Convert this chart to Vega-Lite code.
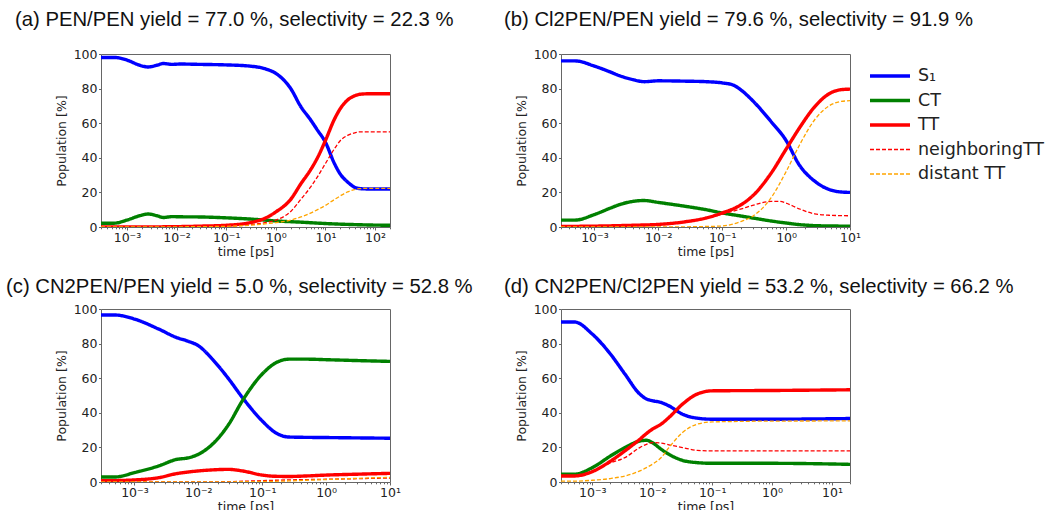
{
  "$schema": "https://vega.github.io/schema/vega-lite/v6.json",
  "padding": {"left": 5, "top": 9, "right": 0, "bottom": 0},
  "background": "white",
  "bounds": "flush",
  "columns": 2,
  "spacing": {"row": 82, "column": 171},
  "data": {"values": [
    {"p":"a","s":"S₁","t":0.0003,"v":98},{"p":"a","s":"S₁","t":0.00055,"v":98},{"p":"a","s":"S₁","t":0.001,"v":96.5},{"p":"a","s":"S₁","t":0.0018,"v":93.5},{"p":"a","s":"S₁","t":0.0027,"v":92.5},{"p":"a","s":"S₁","t":0.004,"v":93.5},{"p":"a","s":"S₁","t":0.0055,"v":94.5},{"p":"a","s":"S₁","t":0.008,"v":94},{"p":"a","s":"S₁","t":0.012,"v":94.2},{"p":"a","s":"S₁","t":0.03,"v":94},{"p":"a","s":"S₁","t":0.1,"v":93.7},{"p":"a","s":"S₁","t":0.3,"v":93},{"p":"a","s":"S₁","t":0.6,"v":91.5},{"p":"a","s":"S₁","t":1,"v":88.8},{"p":"a","s":"S₁","t":2,"v":80},{"p":"a","s":"S₁","t":3.2,"v":69.5},{"p":"a","s":"S₁","t":5,"v":62},{"p":"a","s":"S₁","t":6.9,"v":56},{"p":"a","s":"S₁","t":10,"v":49},{"p":"a","s":"S₁","t":15,"v":37},{"p":"a","s":"S₁","t":20,"v":30.5},{"p":"a","s":"S₁","t":28,"v":26},{"p":"a","s":"S₁","t":40,"v":22.8},{"p":"a","s":"S₁","t":49,"v":22.2},{"p":"a","s":"S₁","t":70,"v":22},{"p":"a","s":"S₁","t":200,"v":22},
    {"p":"a","s":"CT","t":0.0003,"v":2.2},{"p":"a","s":"CT","t":0.00055,"v":2.2},{"p":"a","s":"CT","t":0.001,"v":4},{"p":"a","s":"CT","t":0.0018,"v":6.5},{"p":"a","s":"CT","t":0.0027,"v":7.5},{"p":"a","s":"CT","t":0.004,"v":6.5},{"p":"a","s":"CT","t":0.0055,"v":5.5},{"p":"a","s":"CT","t":0.008,"v":6},{"p":"a","s":"CT","t":0.012,"v":5.9},{"p":"a","s":"CT","t":0.03,"v":5.8},{"p":"a","s":"CT","t":0.1,"v":5.3},{"p":"a","s":"CT","t":0.3,"v":4.6},{"p":"a","s":"CT","t":0.6,"v":4},{"p":"a","s":"CT","t":1,"v":3.5},{"p":"a","s":"CT","t":3.2,"v":2.8},{"p":"a","s":"CT","t":10,"v":2},{"p":"a","s":"CT","t":28,"v":1.5},{"p":"a","s":"CT","t":49,"v":1.3},{"p":"a","s":"CT","t":100,"v":1.1},{"p":"a","s":"CT","t":200,"v":1},
    {"p":"a","s":"TT","t":0.0003,"v":0},{"p":"a","s":"TT","t":0.001,"v":0},{"p":"a","s":"TT","t":0.01,"v":0.2},{"p":"a","s":"TT","t":0.03,"v":0.5},{"p":"a","s":"TT","t":0.1,"v":1},{"p":"a","s":"TT","t":0.3,"v":2.5},{"p":"a","s":"TT","t":0.6,"v":5},{"p":"a","s":"TT","t":1,"v":8.7},{"p":"a","s":"TT","t":2,"v":16},{"p":"a","s":"TT","t":3.2,"v":25},{"p":"a","s":"TT","t":5,"v":33},{"p":"a","s":"TT","t":6.9,"v":40},{"p":"a","s":"TT","t":10,"v":50},{"p":"a","s":"TT","t":15,"v":62},{"p":"a","s":"TT","t":20,"v":68.5},{"p":"a","s":"TT","t":28,"v":73.4},{"p":"a","s":"TT","t":40,"v":76},{"p":"a","s":"TT","t":49,"v":76.7},{"p":"a","s":"TT","t":70,"v":77},{"p":"a","s":"TT","t":200,"v":77},
    {"p":"a","s":"neighboringTT","t":0.0003,"v":0},{"p":"a","s":"neighboringTT","t":0.01,"v":0.1},{"p":"a","s":"neighboringTT","t":0.1,"v":0.6},{"p":"a","s":"neighboringTT","t":0.3,"v":1.3},{"p":"a","s":"neighboringTT","t":0.6,"v":2.5},{"p":"a","s":"neighboringTT","t":1,"v":4},{"p":"a","s":"neighboringTT","t":2,"v":9},{"p":"a","s":"neighboringTT","t":3.2,"v":16},{"p":"a","s":"neighboringTT","t":5,"v":23},{"p":"a","s":"neighboringTT","t":6.9,"v":29},{"p":"a","s":"neighboringTT","t":10,"v":36.7},{"p":"a","s":"neighboringTT","t":15,"v":45},{"p":"a","s":"neighboringTT","t":20,"v":50},{"p":"a","s":"neighboringTT","t":28,"v":53},{"p":"a","s":"neighboringTT","t":40,"v":54.5},{"p":"a","s":"neighboringTT","t":49,"v":55},{"p":"a","s":"neighboringTT","t":200,"v":55},
    {"p":"a","s":"distant TT","t":0.0003,"v":0},{"p":"a","s":"distant TT","t":0.01,"v":0.1},{"p":"a","s":"distant TT","t":0.1,"v":0.4},{"p":"a","s":"distant TT","t":0.3,"v":1},{"p":"a","s":"distant TT","t":0.6,"v":1.8},{"p":"a","s":"distant TT","t":1,"v":2.5},{"p":"a","s":"distant TT","t":2,"v":4},{"p":"a","s":"distant TT","t":3.2,"v":5.8},{"p":"a","s":"distant TT","t":5,"v":8},{"p":"a","s":"distant TT","t":6.9,"v":10},{"p":"a","s":"distant TT","t":10,"v":12.5},{"p":"a","s":"distant TT","t":15,"v":15.8},{"p":"a","s":"distant TT","t":20,"v":18},{"p":"a","s":"distant TT","t":28,"v":20.3},{"p":"a","s":"distant TT","t":40,"v":21.8},{"p":"a","s":"distant TT","t":49,"v":22.2},{"p":"a","s":"distant TT","t":70,"v":22.3},{"p":"a","s":"distant TT","t":200,"v":22.3},

    {"p":"b","s":"S₁","t":0.0003,"v":96},{"p":"b","s":"S₁","t":0.0005,"v":96},{"p":"b","s":"S₁","t":0.001,"v":93},{"p":"b","s":"S₁","t":0.0018,"v":89.5},{"p":"b","s":"S₁","t":0.0025,"v":87.4},{"p":"b","s":"S₁","t":0.004,"v":85.2},{"p":"b","s":"S₁","t":0.006,"v":84},{"p":"b","s":"S₁","t":0.01,"v":84.5},{"p":"b","s":"S₁","t":0.026,"v":84.3},{"p":"b","s":"S₁","t":0.056,"v":84},{"p":"b","s":"S₁","t":0.1,"v":83.3},{"p":"b","s":"S₁","t":0.15,"v":82},{"p":"b","s":"S₁","t":0.2,"v":79},{"p":"b","s":"S₁","t":0.3,"v":73},{"p":"b","s":"S₁","t":0.58,"v":61},{"p":"b","s":"S₁","t":1,"v":50},{"p":"b","s":"S₁","t":1.6,"v":36},{"p":"b","s":"S₁","t":2.8,"v":26.5},{"p":"b","s":"S₁","t":4.7,"v":21.7},{"p":"b","s":"S₁","t":7,"v":20.3},{"p":"b","s":"S₁","t":10,"v":20},
    {"p":"b","s":"CT","t":0.0003,"v":4},{"p":"b","s":"CT","t":0.0005,"v":4},{"p":"b","s":"CT","t":0.001,"v":7.2},{"p":"b","s":"CT","t":0.0018,"v":11},{"p":"b","s":"CT","t":0.0025,"v":13},{"p":"b","s":"CT","t":0.004,"v":14.8},{"p":"b","s":"CT","t":0.006,"v":15.3},{"p":"b","s":"CT","t":0.01,"v":14.2},{"p":"b","s":"CT","t":0.026,"v":12},{"p":"b","s":"CT","t":0.056,"v":10},{"p":"b","s":"CT","t":0.1,"v":8.1},{"p":"b","s":"CT","t":0.2,"v":6.3},{"p":"b","s":"CT","t":0.3,"v":5.2},{"p":"b","s":"CT","t":0.58,"v":3.5},{"p":"b","s":"CT","t":1,"v":2.3},{"p":"b","s":"CT","t":1.6,"v":1.4},{"p":"b","s":"CT","t":2.8,"v":0.8},{"p":"b","s":"CT","t":4.7,"v":0.6},{"p":"b","s":"CT","t":10,"v":0.5},
    {"p":"b","s":"TT","t":0.0003,"v":0.3},{"p":"b","s":"TT","t":0.001,"v":0.5},{"p":"b","s":"TT","t":0.004,"v":1},{"p":"b","s":"TT","t":0.01,"v":1.5},{"p":"b","s":"TT","t":0.026,"v":3},{"p":"b","s":"TT","t":0.056,"v":5.2},{"p":"b","s":"TT","t":0.1,"v":8.1},{"p":"b","s":"TT","t":0.2,"v":13},{"p":"b","s":"TT","t":0.3,"v":18},{"p":"b","s":"TT","t":0.58,"v":31},{"p":"b","s":"TT","t":1,"v":45},{"p":"b","s":"TT","t":1.6,"v":57},{"p":"b","s":"TT","t":2.8,"v":69.5},{"p":"b","s":"TT","t":4.7,"v":77},{"p":"b","s":"TT","t":7,"v":79.3},{"p":"b","s":"TT","t":10,"v":79.7},
    {"p":"b","s":"neighboringTT","t":0.0003,"v":0.3},{"p":"b","s":"neighboringTT","t":0.001,"v":0.5},{"p":"b","s":"neighboringTT","t":0.004,"v":1},{"p":"b","s":"neighboringTT","t":0.01,"v":1.5},{"p":"b","s":"neighboringTT","t":0.026,"v":3},{"p":"b","s":"neighboringTT","t":0.056,"v":5},{"p":"b","s":"neighboringTT","t":0.1,"v":7.5},{"p":"b","s":"neighboringTT","t":0.2,"v":10.5},{"p":"b","s":"neighboringTT","t":0.3,"v":12.5},{"p":"b","s":"neighboringTT","t":0.58,"v":14.8},{"p":"b","s":"neighboringTT","t":0.8,"v":14.8},{"p":"b","s":"neighboringTT","t":1,"v":13.8},{"p":"b","s":"neighboringTT","t":1.6,"v":10.5},{"p":"b","s":"neighboringTT","t":2.8,"v":7.6},{"p":"b","s":"neighboringTT","t":4.7,"v":6.8},{"p":"b","s":"neighboringTT","t":7,"v":6.6},{"p":"b","s":"neighboringTT","t":10,"v":6.5},
    {"p":"b","s":"distant TT","t":0.0003,"v":0},{"p":"b","s":"distant TT","t":0.01,"v":0},{"p":"b","s":"distant TT","t":0.026,"v":0.1},{"p":"b","s":"distant TT","t":0.056,"v":0.3},{"p":"b","s":"distant TT","t":0.1,"v":0.6},{"p":"b","s":"distant TT","t":0.2,"v":3.3},{"p":"b","s":"distant TT","t":0.3,"v":6.2},{"p":"b","s":"distant TT","t":0.58,"v":16.8},{"p":"b","s":"distant TT","t":1,"v":32},{"p":"b","s":"distant TT","t":1.6,"v":47},{"p":"b","s":"distant TT","t":2.8,"v":62},{"p":"b","s":"distant TT","t":4.7,"v":70},{"p":"b","s":"distant TT","t":7,"v":72.5},{"p":"b","s":"distant TT","t":10,"v":73},

    {"p":"c","s":"S₁","t":0.0003,"v":96.5},{"p":"c","s":"S₁","t":0.0005,"v":96.5},{"p":"c","s":"S₁","t":0.001,"v":94.2},{"p":"c","s":"S₁","t":0.0024,"v":88.4},{"p":"c","s":"S₁","t":0.0045,"v":83.6},{"p":"c","s":"S₁","t":0.007,"v":81.3},{"p":"c","s":"S₁","t":0.01,"v":78.8},{"p":"c","s":"S₁","t":0.0166,"v":71},{"p":"c","s":"S₁","t":0.03,"v":59.5},{"p":"c","s":"S₁","t":0.049,"v":48.8},{"p":"c","s":"S₁","t":0.1,"v":35.3},{"p":"c","s":"S₁","t":0.16,"v":28.6},{"p":"c","s":"S₁","t":0.26,"v":26},{"p":"c","s":"S₁","t":0.5,"v":25.8},{"p":"c","s":"S₁","t":1,"v":25.7},{"p":"c","s":"S₁","t":3,"v":25.5},{"p":"c","s":"S₁","t":10,"v":25.3},
    {"p":"c","s":"CT","t":0.0003,"v":2.9},{"p":"c","s":"CT","t":0.0005,"v":2.9},{"p":"c","s":"CT","t":0.001,"v":5.4},{"p":"c","s":"CT","t":0.0024,"v":9.3},{"p":"c","s":"CT","t":0.0045,"v":13},{"p":"c","s":"CT","t":0.007,"v":14},{"p":"c","s":"CT","t":0.01,"v":16},{"p":"c","s":"CT","t":0.0166,"v":21.8},{"p":"c","s":"CT","t":0.03,"v":33.4},{"p":"c","s":"CT","t":0.049,"v":47},{"p":"c","s":"CT","t":0.1,"v":62.4},{"p":"c","s":"CT","t":0.16,"v":68.7},{"p":"c","s":"CT","t":0.26,"v":71},{"p":"c","s":"CT","t":0.5,"v":71},{"p":"c","s":"CT","t":1,"v":70.7},{"p":"c","s":"CT","t":3,"v":70.2},{"p":"c","s":"CT","t":10,"v":69.7},
    {"p":"c","s":"TT","t":0.0003,"v":0.7},{"p":"c","s":"TT","t":0.0005,"v":0.8},{"p":"c","s":"TT","t":0.001,"v":1.2},{"p":"c","s":"TT","t":0.0024,"v":2.5},{"p":"c","s":"TT","t":0.0045,"v":4.8},{"p":"c","s":"TT","t":0.007,"v":5.8},{"p":"c","s":"TT","t":0.01,"v":6.4},{"p":"c","s":"TT","t":0.0166,"v":7},{"p":"c","s":"TT","t":0.03,"v":7.3},{"p":"c","s":"TT","t":0.049,"v":6.4},{"p":"c","s":"TT","t":0.1,"v":4},{"p":"c","s":"TT","t":0.16,"v":3.3},{"p":"c","s":"TT","t":0.26,"v":3.2},{"p":"c","s":"TT","t":0.5,"v":3.5},{"p":"c","s":"TT","t":1,"v":4},{"p":"c","s":"TT","t":3,"v":4.5},{"p":"c","s":"TT","t":10,"v":5},
    {"p":"c","s":"neighboringTT","t":0.0003,"v":0},{"p":"c","s":"neighboringTT","t":0.007,"v":0},{"p":"c","s":"neighboringTT","t":0.01,"v":0.05},{"p":"c","s":"neighboringTT","t":0.03,"v":0.2},{"p":"c","s":"neighboringTT","t":0.1,"v":0.8},{"p":"c","s":"neighboringTT","t":0.26,"v":1.2},{"p":"c","s":"neighboringTT","t":1,"v":1.6},{"p":"c","s":"neighboringTT","t":3,"v":1.9},{"p":"c","s":"neighboringTT","t":10,"v":2.3},
    {"p":"c","s":"distant TT","t":0.0003,"v":0},{"p":"c","s":"distant TT","t":0.01,"v":0},{"p":"c","s":"distant TT","t":0.03,"v":0.1},{"p":"c","s":"distant TT","t":0.1,"v":0.3},{"p":"c","s":"distant TT","t":0.26,"v":0.6},{"p":"c","s":"distant TT","t":0.5,"v":1},{"p":"c","s":"distant TT","t":1,"v":1.4},{"p":"c","s":"distant TT","t":3,"v":2.1},{"p":"c","s":"distant TT","t":10,"v":2.7},

    {"p":"d","s":"S₁","t":0.0003,"v":92.5},{"p":"d","s":"S₁","t":0.0005,"v":92.5},{"p":"d","s":"S₁","t":0.001,"v":85.5},{"p":"d","s":"S₁","t":0.002,"v":74},{"p":"d","s":"S₁","t":0.0035,"v":62.4},{"p":"d","s":"S₁","t":0.0062,"v":50.8},{"p":"d","s":"S₁","t":0.008,"v":48},{"p":"d","s":"S₁","t":0.01,"v":47},{"p":"d","s":"S₁","t":0.014,"v":46},{"p":"d","s":"S₁","t":0.019,"v":44},{"p":"d","s":"S₁","t":0.032,"v":39.2},{"p":"d","s":"S₁","t":0.056,"v":36.9},{"p":"d","s":"S₁","t":0.1,"v":36.3},{"p":"d","s":"S₁","t":1,"v":36.3},{"p":"d","s":"S₁","t":20,"v":36.7},
    {"p":"d","s":"CT","t":0.0003,"v":4.5},{"p":"d","s":"CT","t":0.0005,"v":4.5},{"p":"d","s":"CT","t":0.001,"v":8.3},{"p":"d","s":"CT","t":0.002,"v":15},{"p":"d","s":"CT","t":0.0035,"v":19.9},{"p":"d","s":"CT","t":0.0062,"v":23.7},{"p":"d","s":"CT","t":0.008,"v":24.1},{"p":"d","s":"CT","t":0.01,"v":22.8},{"p":"d","s":"CT","t":0.014,"v":19},{"p":"d","s":"CT","t":0.019,"v":16},{"p":"d","s":"CT","t":0.032,"v":12.5},{"p":"d","s":"CT","t":0.056,"v":11.2},{"p":"d","s":"CT","t":0.1,"v":10.8},{"p":"d","s":"CT","t":1,"v":10.8},{"p":"d","s":"CT","t":20,"v":10.2},
    {"p":"d","s":"TT","t":0.0003,"v":3.5},{"p":"d","s":"TT","t":0.0005,"v":3.5},{"p":"d","s":"TT","t":0.001,"v":6},{"p":"d","s":"TT","t":0.002,"v":12},{"p":"d","s":"TT","t":0.0035,"v":18},{"p":"d","s":"TT","t":0.0062,"v":24.7},{"p":"d","s":"TT","t":0.008,"v":28},{"p":"d","s":"TT","t":0.01,"v":30.5},{"p":"d","s":"TT","t":0.014,"v":33.4},{"p":"d","s":"TT","t":0.019,"v":37.3},{"p":"d","s":"TT","t":0.032,"v":45},{"p":"d","s":"TT","t":0.056,"v":50.8},{"p":"d","s":"TT","t":0.1,"v":52.7},{"p":"d","s":"TT","t":1,"v":52.9},{"p":"d","s":"TT","t":20,"v":53.3},
    {"p":"d","s":"neighboringTT","t":0.0003,"v":3.5},{"p":"d","s":"neighboringTT","t":0.0005,"v":3.5},{"p":"d","s":"neighboringTT","t":0.001,"v":6},{"p":"d","s":"neighboringTT","t":0.002,"v":11},{"p":"d","s":"neighboringTT","t":0.0035,"v":14.1},{"p":"d","s":"neighboringTT","t":0.0062,"v":19.9},{"p":"d","s":"neighboringTT","t":0.008,"v":21.8},{"p":"d","s":"neighboringTT","t":0.01,"v":22.8},{"p":"d","s":"neighboringTT","t":0.014,"v":22.5},{"p":"d","s":"neighboringTT","t":0.019,"v":21.5},{"p":"d","s":"neighboringTT","t":0.032,"v":19.9},{"p":"d","s":"neighboringTT","t":0.056,"v":18.3},{"p":"d","s":"neighboringTT","t":0.1,"v":18},{"p":"d","s":"neighboringTT","t":1,"v":18},{"p":"d","s":"neighboringTT","t":20,"v":18},
    {"p":"d","s":"distant TT","t":0.0003,"v":0.5},{"p":"d","s":"distant TT","t":0.0005,"v":0.5},{"p":"d","s":"distant TT","t":0.001,"v":1},{"p":"d","s":"distant TT","t":0.002,"v":2},{"p":"d","s":"distant TT","t":0.0035,"v":3.5},{"p":"d","s":"distant TT","t":0.0062,"v":6.4},{"p":"d","s":"distant TT","t":0.008,"v":8.3},{"p":"d","s":"distant TT","t":0.01,"v":10.2},{"p":"d","s":"distant TT","t":0.014,"v":14},{"p":"d","s":"distant TT","t":0.019,"v":19.9},{"p":"d","s":"distant TT","t":0.032,"v":28.6},{"p":"d","s":"distant TT","t":0.056,"v":33.4},{"p":"d","s":"distant TT","t":0.1,"v":34.7},{"p":"d","s":"distant TT","t":1,"v":35.2},{"p":"d","s":"distant TT","t":20,"v":35.3}
  ]},
  "concat": [
    {
      "width": 289, "height": 173,
      "title": {"text": "(a) PEN/PEN yield = 77.0 %, selectivity = 22.3 %", "dx": -86, "offset": 18},
      "transform": [{"filter": "datum.p === 'a'"}],
      "mark": {"type": "line", "interpolate": "monotone", "clip": true},
      "encoding": {
        "x": {"field": "t", "type": "quantitative", "scale": {"type": "log", "domain": [0.0003, 200], "nice": false}, "axis": {"values": [0.0003,0.0004,0.0005,0.0006,0.0007,0.0008,0.0009,0.001,0.002,0.003,0.004,0.005,0.006,0.007,0.008,0.009,0.01,0.02,0.03,0.04,0.05,0.06,0.07,0.08,0.09,0.1,0.2,0.3,0.4,0.5,0.6,0.7,0.8,0.9,1,2,3,4,5,6,7,8,9,10,20,30,40,50,60,70,80,90,100,200], "title": "time [ps]"}},
        "y": {"field": "v", "type": "quantitative", "scale": {"domain": [0, 100], "nice": false}, "axis": {"values": [0, 20, 40, 60, 80, 100], "title": "Population [%]"}},
        "color": {"field": "s", "type": "nominal", "scale": {"domain": ["S₁", "CT", "TT", "neighboringTT", "distant TT"], "range": ["#0000ff", "#008000", "#ff0000", "#ff0000", "#ffa500"]}},
        "strokeDash": {"field": "s", "type": "nominal", "scale": {"domain": ["S₁", "CT", "TT", "neighboringTT", "distant TT"], "range": [[1, 0], [1, 0], [1, 0], [4, 2], [4, 2]]}},
        "strokeWidth": {"field": "s", "type": "nominal", "scale": {"type": "ordinal", "domain": ["S₁", "CT", "TT", "neighboringTT", "distant TT"], "range": [3.4, 3.4, 3.4, 1.3, 1.3]}}
      }
    },
    {
      "width": 289, "height": 173,
      "title": {"text": "(b) Cl2PEN/PEN yield = 79.6 %, selectivity = 91.9 %", "dx": -57, "offset": 18},
      "transform": [{"filter": "datum.p === 'b'"}],
      "mark": {"type": "line", "interpolate": "monotone", "clip": true},
      "encoding": {
        "x": {"field": "t", "type": "quantitative", "scale": {"type": "log", "domain": [0.0003, 10], "nice": false}, "axis": {"values": [0.0003,0.0004,0.0005,0.0006,0.0007,0.0008,0.0009,0.001,0.002,0.003,0.004,0.005,0.006,0.007,0.008,0.009,0.01,0.02,0.03,0.04,0.05,0.06,0.07,0.08,0.09,0.1,0.2,0.3,0.4,0.5,0.6,0.7,0.8,0.9,1,2,3,4,5,6,7,8,9,10], "title": "time [ps]"}},
        "y": {"field": "v", "type": "quantitative", "scale": {"domain": [0, 100], "nice": false}, "axis": {"values": [0, 20, 40, 60, 80, 100], "title": "Population [%]"}},
        "color": {"field": "s", "type": "nominal", "scale": {"domain": ["S₁", "CT", "TT", "neighboringTT", "distant TT"], "range": ["#0000ff", "#008000", "#ff0000", "#ff0000", "#ffa500"]}},
        "strokeDash": {"field": "s", "type": "nominal", "scale": {"domain": ["S₁", "CT", "TT", "neighboringTT", "distant TT"], "range": [[1, 0], [1, 0], [1, 0], [4, 2], [4, 2]]}},
        "strokeWidth": {"field": "s", "type": "nominal", "scale": {"type": "ordinal", "domain": ["S₁", "CT", "TT", "neighboringTT", "distant TT"], "range": [3.4, 3.4, 3.4, 1.3, 1.3]}}
      }
    },
    {
      "width": 289, "height": 173,
      "title": {"text": "(c) CN2PEN/PEN yield = 5.0 %, selectivity = 52.8 %", "dx": -95, "offset": 6},
      "transform": [{"filter": "datum.p === 'c'"}],
      "mark": {"type": "line", "interpolate": "monotone", "clip": true},
      "encoding": {
        "x": {"field": "t", "type": "quantitative", "scale": {"type": "log", "domain": [0.0003, 10], "nice": false}, "axis": {"values": [0.0003,0.0004,0.0005,0.0006,0.0007,0.0008,0.0009,0.001,0.002,0.003,0.004,0.005,0.006,0.007,0.008,0.009,0.01,0.02,0.03,0.04,0.05,0.06,0.07,0.08,0.09,0.1,0.2,0.3,0.4,0.5,0.6,0.7,0.8,0.9,1,2,3,4,5,6,7,8,9,10], "title": "time [ps]"}},
        "y": {"field": "v", "type": "quantitative", "scale": {"domain": [0, 100], "nice": false}, "axis": {"values": [0, 20, 40, 60, 80, 100], "title": "Population [%]"}},
        "color": {"field": "s", "type": "nominal", "scale": {"domain": ["S₁", "CT", "TT", "neighboringTT", "distant TT"], "range": ["#0000ff", "#008000", "#ff0000", "#ff0000", "#ffa500"]}},
        "strokeDash": {"field": "s", "type": "nominal", "scale": {"domain": ["S₁", "CT", "TT", "neighboringTT", "distant TT"], "range": [[1, 0], [1, 0], [1, 0], [4, 2], [4, 2]]}},
        "strokeWidth": {"field": "s", "type": "nominal", "scale": {"type": "ordinal", "domain": ["S₁", "CT", "TT", "neighboringTT", "distant TT"], "range": [3.4, 3.4, 3.4, 1.3, 1.3]}}
      }
    },
    {
      "width": 289, "height": 173,
      "title": {"text": "(d) CN2PEN/Cl2PEN yield = 53.2 %, selectivity = 66.2 %", "dx": -57, "offset": 6},
      "transform": [{"filter": "datum.p === 'd'"}],
      "mark": {"type": "line", "interpolate": "monotone", "clip": true},
      "encoding": {
        "x": {"field": "t", "type": "quantitative", "scale": {"type": "log", "domain": [0.0003, 20], "nice": false}, "axis": {"values": [0.0003,0.0004,0.0005,0.0006,0.0007,0.0008,0.0009,0.001,0.002,0.003,0.004,0.005,0.006,0.007,0.008,0.009,0.01,0.02,0.03,0.04,0.05,0.06,0.07,0.08,0.09,0.1,0.2,0.3,0.4,0.5,0.6,0.7,0.8,0.9,1,2,3,4,5,6,7,8,9,10,20], "title": "time [ps]"}},
        "y": {"field": "v", "type": "quantitative", "scale": {"domain": [0, 100], "nice": false}, "axis": {"values": [0, 20, 40, 60, 80, 100], "title": "Population [%]"}},
        "color": {"field": "s", "type": "nominal", "scale": {"domain": ["S₁", "CT", "TT", "neighboringTT", "distant TT"], "range": ["#0000ff", "#008000", "#ff0000", "#ff0000", "#ffa500"]}},
        "strokeDash": {"field": "s", "type": "nominal", "scale": {"domain": ["S₁", "CT", "TT", "neighboringTT", "distant TT"], "range": [[1, 0], [1, 0], [1, 0], [4, 2], [4, 2]]}},
        "strokeWidth": {"field": "s", "type": "nominal", "scale": {"type": "ordinal", "domain": ["S₁", "CT", "TT", "neighboringTT", "distant TT"], "range": [3.4, 3.4, 3.4, 1.3, 1.3]}}
      }
    }
  ],
  "resolve": {"scale": {"x": "independent", "y": "independent", "color": "shared", "strokeDash": "shared", "strokeWidth": "shared"}},
  "config": {
    "view": {"stroke": "#666", "strokeWidth": 1},
    "axis": {"grid": false, "domain": false, "labelFont": "DejaVu Sans", "labelFontSize": 12.5, "labelColor": "#222", "titleFont": "DejaVu Sans", "titleFontSize": 12.5, "titleFontWeight": "normal", "titleColor": "#222", "tickSize": 2.5, "tickColor": "#666", "labelPadding": 1.5, "labelOverlap": false},
    "axisX": {"titlePadding": 1, "labelFlush": false, "tickSize": {"condition": {"test": "abs(log(datum.value)/LN10 - round(log(datum.value)/LN10)) < 0.001", "value": 3}, "value": 1.8}, "labelExpr": "abs(log(datum.value)/LN10 - round(log(datum.value)/LN10)) < 0.001 ? '10' + replace(replace(replace(replace(replace('' + round(log(datum.value)/LN10), '-', '⁻'), '0', '⁰'), '1', '¹'), '2', '²'), '3', '³') : ''"},
    "axisY": {"titlePadding": 5},
    "title": {"font": "Liberation Sans", "fontSize": 20.3, "fontWeight": "normal", "color": "#111", "anchor": "start", "frame": "group", "baseline": "alphabetic"},
    "legend": {"orient": "none", "legendX": 767, "legendY": 12, "title": null, "labelFont": "DejaVu Sans", "labelFontSize": 17.5, "labelColor": "#222", "symbolSize": 1600, "symbolType": "stroke", "clipHeight": 20, "rowPadding": 4.5, "padding": 0, "labelOffset": 6}
  }
}
